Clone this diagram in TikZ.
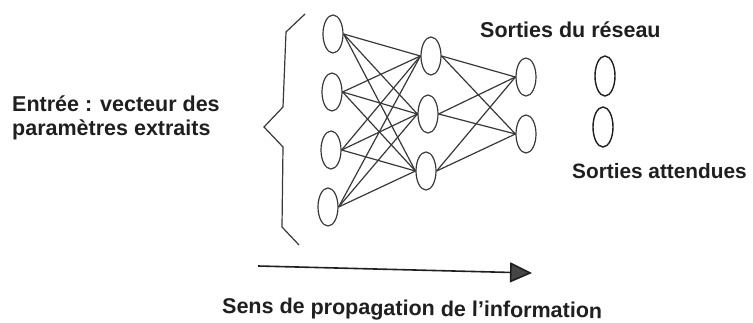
\documentclass[tikz,border=0pt]{standalone}
\usepackage{fontspec}
\setmainfont{Liberation Sans}
\usetikzlibrary{shapes.geometric,arrows.meta}
\definecolor{ink}{gray}{0.12}
\definecolor{wire}{gray}{0.22}
\begin{document}
\begin{tikzpicture}[x=1pt,y=-1pt,
  neuron/.style={ellipse,draw=wire,line width=1.2pt,minimum width=20pt,minimum height=38pt,inner sep=0pt},
  target/.style={ellipse,draw=ink,line width=1.4pt,minimum width=20pt,minimum height=40pt,inner sep=0pt},
  label/.style={font=\fontsize{21.5}{24}\selectfont\bfseries,text=ink,inner sep=0pt,anchor=base west},
  link/.style={draw=wire,line width=1.2pt}]
\useasboundingbox (0,0) rectangle (753,322);

% input layer
\node[neuron] (i1) at (333,34) {};
\node[neuron] (i2) at (332,92) {};
\node[neuron] (i3) at (331,150) {};
\node[neuron] (i4) at (328,207) {};
% hidden layer
\node[neuron] (h1) at (431,56) {};
\node[neuron] (h2) at (428,114) {};
\node[neuron] (h3) at (426,171) {};
% output layer
\node[neuron] (o1) at (526,77) {};
\node[neuron] (o2) at (526,134) {};
% expected outputs
\node[target] (e1) at (605,76) {};
\node[target] (e2) at (603,127) {};

% full connections
\foreach \a in {i1,i2,i3,i4}
  \foreach \b in {h1,h2,h3}
    \draw[link] (\a.east) -- (\b.west);
\foreach \a in {h1,h2,h3}
  \foreach \b in {o1,o2}
    \draw[link] (\a.east) -- (\b.west);

% brace grouping the inputs
\draw[wire,line width=1.2pt,line join=miter]
  (305,14) -- (286,32) -- (283,107) -- (264,127) -- (283,147) -- (282,227) -- (299,245);

% labels
\node[label] (tin1) at (12,111) {Entrée : vecteur des};
\node[label] (tin2) at (12,135) {paramètres extraits};
\node[label] (tout) at (480,37) {Sorties du réseau};
\node[label,font=\fontsize{20.8}{24}\selectfont\bfseries] (texp) at (572,178) {Sorties attendues};

% propagation direction
\coordinate (as) at (258,266);
\coordinate (ae) at (532,273);
\draw[ink,line width=1.6pt,-{Triangle[length=22pt,width=20pt,fill=gray!55!black]}] (as) -- (ae);
\node[label,rotate=-0.8] (tdir) at (222,313) {Sens de propagation de l’information};
\end{tikzpicture}
\end{document}
